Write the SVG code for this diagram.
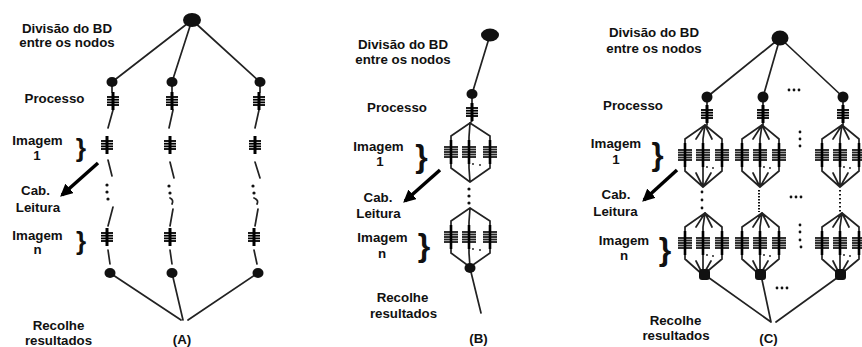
<svg xmlns="http://www.w3.org/2000/svg" width="862" height="347" viewBox="0 0 862 347">
<style>
.t{font-family:"Liberation Sans",Arial,sans-serif;font-weight:bold;font-size:13.3px;fill:#111;text-anchor:middle}
.br{font-family:"Liberation Sans",Arial,sans-serif;font-weight:bold;fill:#111;text-anchor:middle}
.ln{stroke:#222;stroke-width:1.7;fill:none;stroke-linecap:round}
.nd{fill:#111}
.ar{stroke:#000;stroke-width:3.5;fill:none}
.dt{fill:#111}
</style>
<defs>
<filter id="bl" x="-50%" y="-50%" width="200%" height="200%"><feGaussianBlur stdDeviation="0.7"/></filter>
<g id="mk" filter="url(#bl)" stroke="#000">
<line x1="0" y1="-9" x2="0" y2="9" stroke-width="3"/>
<line x1="-6" y1="-4" x2="6" y2="-4" stroke-width="1.8"/>
<line x1="-6" y1="-1.3" x2="6" y2="-1.3" stroke-width="1.8"/>
<line x1="-6" y1="1.4" x2="6" y2="1.4" stroke-width="1.8"/>
<line x1="-6" y1="4" x2="6" y2="4" stroke-width="1.8"/>
</g>
<g id="mkw" filter="url(#bl)" stroke="#000">
<line x1="0" y1="-12" x2="0" y2="12" stroke-width="2.6"/>
<line x1="-7" y1="-5" x2="7" y2="-5" stroke-width="1.9" opacity="0.85"/>
<line x1="-7" y1="-2.5" x2="7" y2="-2.5" stroke-width="1.9" opacity="0.85"/>
<line x1="-7" y1="0" x2="7" y2="0" stroke-width="1.9" opacity="0.85"/>
<line x1="-7" y1="2.5" x2="7" y2="2.5" stroke-width="1.9" opacity="0.85"/>
<line x1="-7" y1="5" x2="7" y2="5" stroke-width="1.9" opacity="0.85"/>
</g>
<g id="fanB">
<path class="ln" d="M0,0 L-19,13 V23 M0,0 L20,13 V23 M0,0 L-1,14 V23 M-19,35 V45 L0,59 M20,35 V45 L0,59 M-1,35 V45 L0,59"/>
<use href="#mkw" x="-19" y="29"/>
<use href="#mkw" x="-1" y="29"/>
<use href="#mkw" x="20" y="29"/>
<circle class="dt" cx="3" cy="41" r="0.9"/>
<circle class="dt" cx="10" cy="42" r="0.9"/>
</g>
<g id="fanC">
<path class="ln" d="M0,0 L-20,14 V20 M0,0 L-9,14 M0,0 L-2,14 V20 M0,0 L7,14 M0,0 L17,14 V20 M-20,40 V46 L-2,62 M-9,48 L-2,62 M-2,40 V62 M6,48 L-2,62 M17,40 V46 L-2,62"/>
<use href="#mkw" x="-20" y="30"/>
<use href="#mkw" x="-2" y="30"/>
<use href="#mkw" x="17" y="30"/>
<circle class="dt" cx="2" cy="42" r="0.9"/>
<circle class="dt" cx="8" cy="43" r="0.9"/>
</g>
<marker id="ah" viewBox="0 0 10 10" refX="8" refY="5" markerWidth="3.6" markerHeight="3.6" orient="auto"><path d="M0,0 L10,5 L0,10 z" fill="#000"/></marker>
</defs>

<g id="connectors">
<path class="ln" d="M192,20 L112,82 M192,20 L172,82 M192,20 L260,82"/>
<path class="ln" d="M110,273 L181,320 M172,273 L183,320 M258,273 L188,320"/>
<path class="ln" d="M112,84 V92 M113,110 L108,128 M108,160 L112,176 M113,207 L108,226 M108,250 L110,264"/>
<path class="ln" d="M172,84 V92 M173,110 L169,128 M170,162 L174,178 M173,209 L170,226 M170,250 L172,264"/>
<path class="ln" d="M260,84 V92 M259,110 L255,128 M255,162 L260,178 M258,209 L255,226 M254,250 L257,264"/>
<path class="ln" d="M490,35 L472,94 M472,94 V103 M472,121 L470,123 M470,268 L481,313"/>
<path class="ln" d="M780,38 L707,97 M780,38 L763,97 M780,38 L843,97"/>
<path class="ln" d="M705,275 L771,322 M761,275 L771,322 M841,275 L776,322"/>
<path class="ln" d="M707,97 V105 M707,123 V125 M763,97 V105 M763,123 V125 M843,97 V105 M843,123 V125"/>
<line class="ar" x1="98" y1="163" x2="62" y2="195" marker-end="url(#ah)"/>
<line class="ar" x1="440" y1="170" x2="405" y2="201" marker-end="url(#ah)"/>
<line class="ar" x1="677" y1="170" x2="644" y2="200" marker-end="url(#ah)"/>
</g>

<g id="panelA">
<g id="A-top"><ellipse class="nd" cx="192" cy="20" rx="9" ry="7"/></g>
<g id="A-p1"><ellipse class="nd" cx="112" cy="82" rx="5.5" ry="5"/><use href="#mk" x="113" y="101"/></g>
<g id="A-p2"><ellipse class="nd" cx="172" cy="82" rx="5.5" ry="5"/><use href="#mk" x="172" y="101"/></g>
<g id="A-p3"><ellipse class="nd" cx="260" cy="82" rx="5.5" ry="5"/><use href="#mk" x="259" y="101"/></g>
<g id="A-i1">
<use href="#mk" x="107" y="145"/><use href="#mk" x="170" y="145"/><use href="#mk" x="255" y="145"/>
</g>
<g id="A-dots">
<circle class="dt" cx="107" cy="185" r="1.6"/><circle class="dt" cx="107" cy="192" r="1.6"/><circle class="dt" cx="108" cy="199" r="1.6"/>
<circle class="dt" cx="169" cy="186" r="1.6"/><circle class="dt" cx="170" cy="193" r="1.6"/><path class="ln" d="M170,198 Q174,200 172,204"/>
<circle class="dt" cx="253" cy="186" r="1.6"/><circle class="dt" cx="254" cy="193" r="1.6"/><path class="ln" d="M254,198 Q259,200 257,204"/>
</g>
<g id="A-in">
<use href="#mk" x="107" y="237"/><use href="#mk" x="170" y="237"/><use href="#mk" x="254" y="237"/>
</g>
<g id="A-bot">
<ellipse class="nd" cx="110" cy="273" rx="5.5" ry="5"/><ellipse class="nd" cx="172" cy="273" rx="5.5" ry="5"/><ellipse class="nd" cx="258" cy="273" rx="5.5" ry="5"/>
</g>
<g id="A-labels">
<text class="t" x="67" y="33">Divisão do BD</text>
<text class="t" x="67" y="47">entre os nodos</text>
<text class="t" x="54.5" y="103">Processo</text>
<text class="t" x="37.5" y="145">Imagem</text>
<text class="t" x="37" y="160">1</text>
<text class="br" x="81" y="156.5" font-size="26.5">}</text>
<text class="t" x="35.5" y="195">Cab.</text>
<text class="t" x="38" y="212">Leitura</text>
<text class="t" x="37.5" y="240">Imagem</text>
<text class="t" x="37.5" y="254">n</text>
<text class="br" x="81" y="250" font-size="26">}</text>
<text class="t" x="58.5" y="330">Recolhe</text>
<text class="t" x="58.5" y="345">resultados</text>
<text class="t" x="182" y="344">(A)</text>
</g>
</g>

<g id="panelB">
<g id="B-top"><ellipse class="nd" cx="490" cy="35" rx="9" ry="6.5"/></g>
<g id="B-p"><ellipse class="nd" cx="472" cy="94" rx="5.5" ry="5"/><use href="#mk" x="472" y="112"/></g>
<g id="B-i1"><use href="#fanB" x="470" y="123"/></g>
<g id="B-dots"><circle class="dt" cx="469" cy="189" r="1.6"/><circle class="dt" cx="469" cy="196" r="1.6"/><circle class="dt" cx="469" cy="203" r="1.6"/></g>
<g id="B-in"><use href="#fanB" x="470" y="208"/></g>
<g id="B-bot"><ellipse class="nd" cx="470" cy="268" rx="5.5" ry="5"/></g>
<g id="B-labels">
<text class="t" x="403" y="49">Divisão do BD</text>
<text class="t" x="403" y="64">entre os nodos</text>
<text class="t" x="397" y="112">Processo</text>
<text class="t" x="378.5" y="151">Imagem</text>
<text class="t" x="380" y="166">1</text>
<text class="br" x="421.5" y="167" font-size="32">}</text>
<text class="t" x="378" y="202">Cab.</text>
<text class="t" x="378.5" y="218">Leitura</text>
<text class="t" x="382.5" y="242">Imagem</text>
<text class="t" x="382" y="258">n</text>
<text class="br" x="424" y="256" font-size="32">}</text>
<text class="t" x="402.5" y="302">Recolhe</text>
<text class="t" x="403.5" y="318">resultados</text>
<text class="t" x="478.5" y="343">(B)</text>
</g>
</g>

<g id="panelC">
<g id="C-top"><ellipse class="nd" cx="780" cy="38" rx="8.5" ry="7.5"/></g>
<g id="C-p1"><ellipse class="nd" cx="707" cy="97" rx="5.5" ry="5.5"/><use href="#mk" x="707" y="114"/></g>
<g id="C-p2"><ellipse class="nd" cx="763" cy="97" rx="5.5" ry="5.5"/><use href="#mk" x="763" y="114"/></g>
<g id="C-p3"><ellipse class="nd" cx="843" cy="97" rx="5.5" ry="5.5"/><use href="#mk" x="843" y="114"/></g>
<g id="C-i1">
<use href="#fanC" x="705" y="125"/><use href="#fanC" x="762" y="125"/><use href="#fanC" x="842" y="125"/>
</g>
<g id="C-dots">
<circle class="dt" cx="789" cy="90" r="1.4"/><circle class="dt" cx="794" cy="90" r="1.4"/><circle class="dt" cx="799" cy="90" r="1.4"/>
<circle class="dt" cx="800" cy="132" r="1.4"/><circle class="dt" cx="800" cy="139" r="1.4"/><circle class="dt" cx="800" cy="146" r="1.4"/>
<circle class="dt" cx="702" cy="192" r="1.4"/><circle class="dt" cx="702" cy="200" r="1.4"/><circle class="dt" cx="702" cy="208" r="1.4"/>
<path d="M759,190 V212" stroke="#111" stroke-width="2" stroke-dasharray="1.5,1.5"/>
<path d="M840,190 V212" stroke="#111" stroke-width="2" stroke-dasharray="1.5,2.5"/>
<circle class="dt" cx="791" cy="197" r="1.4"/><circle class="dt" cx="796" cy="197" r="1.4"/><circle class="dt" cx="801" cy="197" r="1.4"/>
<circle class="dt" cx="800" cy="225" r="1.4"/><circle class="dt" cx="800" cy="232" r="1.4"/><circle class="dt" cx="800" cy="240" r="1.4"/><circle class="dt" cx="801" cy="247" r="1.4"/>
<circle class="dt" cx="777" cy="288" r="1.4"/><circle class="dt" cx="782" cy="288" r="1.4"/><circle class="dt" cx="787" cy="288" r="1.4"/>
</g>
<g id="C-in">
<use href="#fanC" x="705" y="213"/><use href="#fanC" x="762" y="213"/><use href="#fanC" x="842" y="213"/>
</g>
<g id="C-bot">
<rect class="nd" x="699" y="269" width="11" height="11" rx="3"/><rect class="nd" x="755" y="269" width="11" height="11" rx="3"/><rect class="nd" x="835" y="269" width="11" height="11" rx="3"/>
</g>
<g id="C-labels">
<text class="t" x="654" y="37">Divisão do BD</text>
<text class="t" x="654" y="53">entre os nodos</text>
<text class="t" x="633" y="110">Processo</text>
<text class="t" x="616" y="148">Imagem</text>
<text class="t" x="616" y="164">1</text>
<text class="br" x="657.5" y="164.5" font-size="31">}</text>
<text class="t" x="616" y="199">Cab.</text>
<text class="t" x="615.5" y="216">Leitura</text>
<text class="t" x="624" y="245">Imagem</text>
<text class="t" x="624" y="260">n</text>
<text class="br" x="665" y="260" font-size="32">}</text>
<text class="t" x="675.5" y="325">Recolhe</text>
<text class="t" x="676" y="340">resultados</text>
<text class="t" x="768.5" y="343">(C)</text>
</g>
</g>
</svg>
